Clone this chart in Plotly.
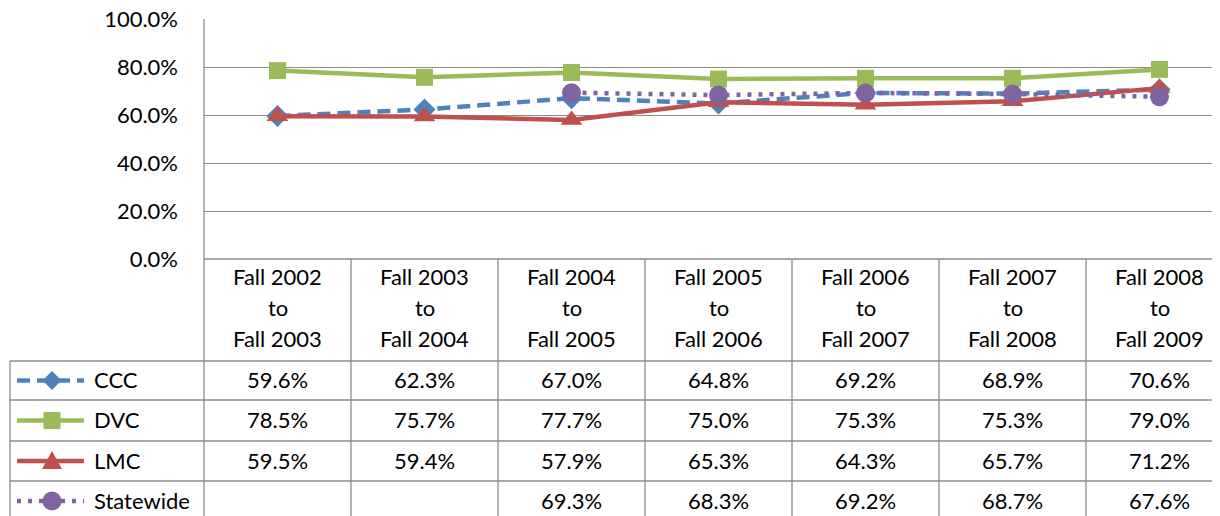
import plotly.graph_objects as go

categories = ["Fall 2002 to Fall 2003", "Fall 2003 to Fall 2004", "Fall 2004 to Fall 2005",
              "Fall 2005 to Fall 2006", "Fall 2006 to Fall 2007", "Fall 2007 to Fall 2008",
              "Fall 2008 to Fall 2009"]
ccc = [59.6, 62.3, 67.0, 64.8, 69.2, 68.9, 70.6]
dvc = [78.5, 75.7, 77.7, 75.0, 75.3, 75.3, 79.0]
lmc = [59.5, 59.4, 57.9, 65.3, 64.3, 65.7, 71.2]
statewide = [None, None, 69.3, 68.3, 69.2, 68.7, 67.6]
series_names = ["CCC", "DVC", "LMC", "Statewide"]
y_ticks = [0, 20, 40, 60, 80, 100]

W, H = 1220, 516
OFF = 8  # page body margin offset
FONT = "Lato"
FS = 22
GRID = "#8c8c8c"

styles = {
    "CCC": dict(color="#4F81BD", dash="13px,7px", symbol="diamond", size=17),
    "DVC": dict(color="#9BBB59", dash="solid", symbol="square", size=17),
    "LMC": dict(color="#C0504D", dash="solid", symbol="triangle-up", size=19),
    "Statewide": dict(color="#8064A2", dash="4px,7px", symbol="circle", size=19),
}
data = {"CCC": ccc, "DVC": dvc, "LMC": lmc, "Statewide": statewide}

# page-pixel geometry
px_left = 204
col_w = 147.0
y_top, y_bot = 19, 259
table_left = 10
row_edges = [361, 400, 441, 481, 521]


def fx(p):
    return (p - OFF) / W


def fy(p):
    return 1 - (p - OFF) / H


fig = go.Figure()
xs = list(range(len(categories)))
for name in series_names:
    s = styles[name]
    fig.add_trace(go.Scatter(
        x=xs, y=[None if v is None else v / 100 for v in data[name]],
        mode="lines+markers", name=name, showlegend=False,
        line=dict(color=s["color"], width=4.5, dash=s["dash"]),
        marker=dict(symbol=s["symbol"], size=s["size"], color=s["color"], line=dict(width=0)),
        connectgaps=False, hoverinfo="skip",
    ))

x_range_max = -0.5 + (W - (px_left - OFF)) / col_w

fig.update_layout(
    width=W, height=H,
    margin=dict(l=0, r=0, t=0, b=0, pad=0),
    paper_bgcolor="white", plot_bgcolor="white",
    font=dict(family=FONT, size=FS, color="black"),
    xaxis=dict(domain=[fx(px_left), 1], range=[-0.5, x_range_max], showgrid=False,
               showticklabels=False, zeroline=False, ticks="", automargin=False),
    yaxis=dict(domain=[fy(y_bot), fy(y_top)], range=[0, 1], tickvals=[v / 100 for v in y_ticks],
               tickformat=".1%", showgrid=True, gridcolor=GRID, gridwidth=1.3, zeroline=False,
               ticks="", ticklabelstandoff=25, tickfont=dict(family=FONT, size=FS),
               ticklabeloverflow="allow", automargin=False),
)

shapes = []
line_style = dict(color=GRID, width=1.3)
shapes.append(dict(type="line", xref="paper", yref="paper", x0=fx(px_left), x1=fx(px_left),
                   y0=fy(y_top), y1=0, line=line_style))
shapes.append(dict(type="line", xref="paper", yref="paper", x0=fx(px_left), x1=1,
                   y0=fy(y_bot), y1=fy(y_bot), line=line_style))
for k in range(1, len(categories)):
    shapes.append(dict(type="line", xref="x", yref="paper", x0=k - 0.5, x1=k - 0.5,
                       y0=fy(y_bot), y1=0, line=line_style))
for r in row_edges[:-1]:
    shapes.append(dict(type="line", xref="paper", yref="paper", x0=fx(table_left), x1=1,
                       y0=fy(r), y1=fy(r), line=line_style))
shapes.append(dict(type="line", xref="paper", yref="paper", x0=fx(table_left), x1=fx(table_left),
                   y0=fy(row_edges[0]), y1=0, line=line_style))

# legend keys drawn as shapes in the table's first column
key_x0, key_x1, key_cx = 17, 84, 52
for i, name in enumerate(series_names):
    s = styles[name]
    cy = (row_edges[i] + row_edges[i + 1]) / 2
    c = s["color"]
    shapes.append(dict(type="line", xref="paper", yref="paper", x0=fx(key_x0), x1=fx(key_x1),
                       y0=fy(cy), y1=fy(cy), line=dict(color=c, width=4.5, dash=s["dash"])))
    sym = s["symbol"]
    if sym == "square":
        h = 8.5
        shapes.append(dict(type="rect", xref="paper", yref="paper", x0=fx(key_cx - h), x1=fx(key_cx + h),
                           y0=fy(cy - h), y1=fy(cy + h), fillcolor=c, line=dict(width=0)))
    elif sym == "circle":
        h = 9.5
        shapes.append(dict(type="circle", xref="paper", yref="paper", x0=fx(key_cx - h), x1=fx(key_cx + h),
                           y0=fy(cy - h), y1=fy(cy + h), fillcolor=c, line=dict(width=0)))
    elif sym == "diamond":
        h = 9.5
        pts = [(key_cx, cy - h), (key_cx + h, cy), (key_cx, cy + h), (key_cx - h, cy)]
        path = "M " + " L ".join(f"{fx(a):.5f},{fy(b):.5f}" for a, b in pts) + " Z"
        shapes.append(dict(type="path", xref="paper", yref="paper", path=path, fillcolor=c, line=dict(width=0)))
    elif sym == "triangle-up":
        pts = [(key_cx - 10, cy + 8), (key_cx + 10, cy + 8), (key_cx, cy - 10)]
        path = "M " + " L ".join(f"{fx(a):.5f},{fy(b):.5f}" for a, b in pts) + " Z"
        shapes.append(dict(type="path", xref="paper", yref="paper", path=path, fillcolor=c, line=dict(width=0)))
fig.update_layout(shapes=shapes)

ann = []
for i, cat in enumerate(categories):
    parts = cat.split(" to ")
    lines = [parts[0], "to", parts[1]]
    for j, t in enumerate(lines):
        ann.append(dict(text=t, xref="x", yref="paper", x=i, y=fy(276 + 31 * j),
                        showarrow=False, xanchor="center", yanchor="middle",
                        font=dict(family=FONT, size=FS)))
for r, name in enumerate(series_names):
    yc = (row_edges[r] + row_edges[r + 1]) / 2 - 1
    ann.append(dict(text=name, xref="paper", yref="paper", x=fx(92), y=fy(yc),
                    showarrow=False, xanchor="left", yanchor="middle",
                    font=dict(family=FONT, size=FS)))
    for i, v in enumerate(data[name]):
        if v is None:
            continue
        ann.append(dict(text=f"{v:.1f}%", xref="x", yref="paper", x=i, y=fy(yc),
                        showarrow=False, xanchor="center", yanchor="middle",
                        font=dict(family=FONT, size=FS)))
fig.update_layout(annotations=ann)

fig.write_html("out.html")
